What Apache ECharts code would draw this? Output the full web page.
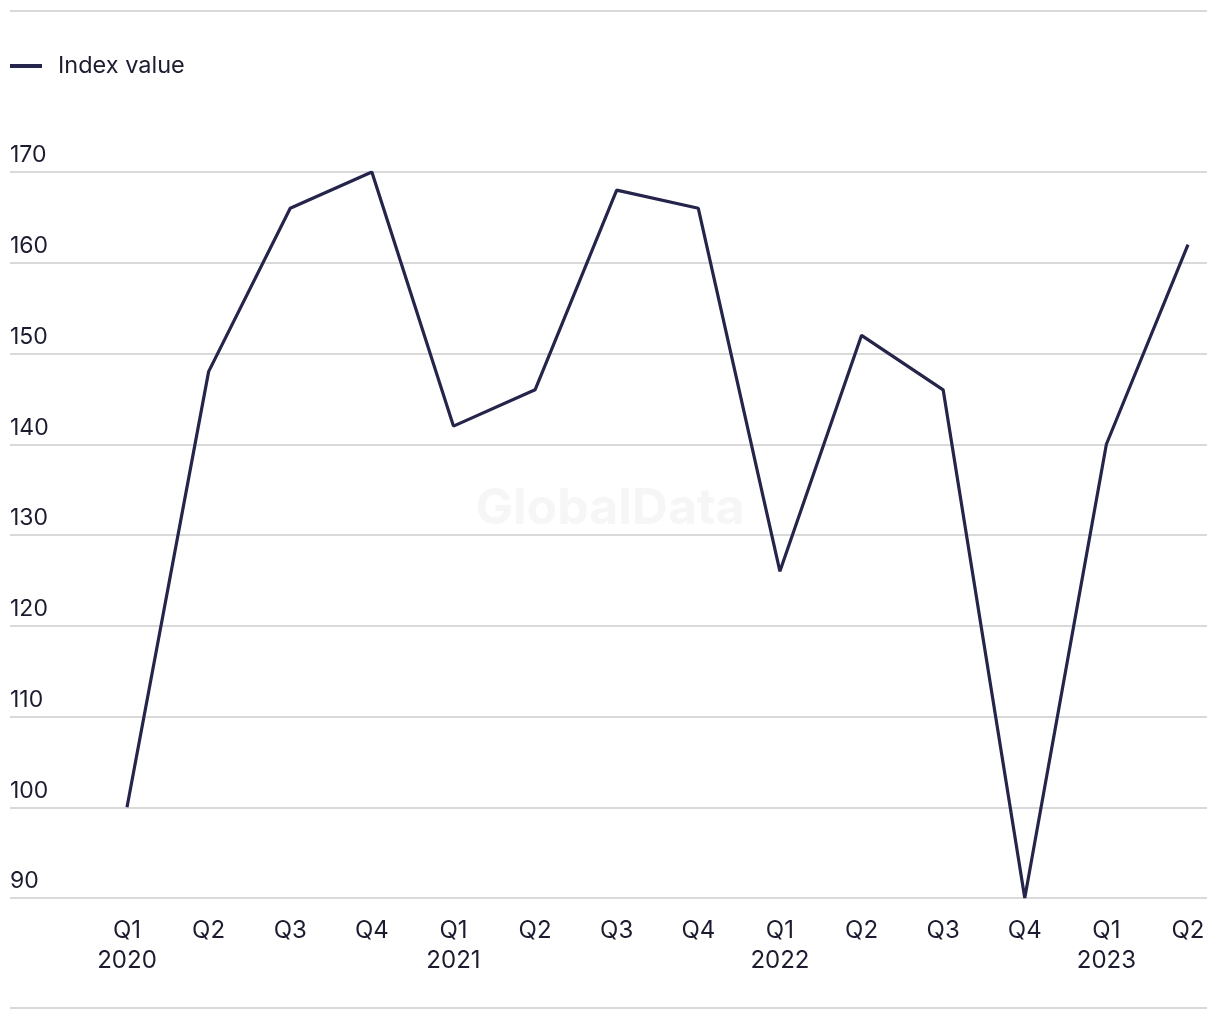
<!DOCTYPE html>
<html>
<head>
<meta charset="utf-8">
<script src="https://cdn.jsdelivr.net/npm/echarts@6/dist/echarts.min.js"></script>
<style>html,body{margin:0;padding:0;background:#fff}#c{width:1220px;height:1020px}</style>
</head>
<body>
<div id="c"></div>
<script>
const quarters = ['Q1','Q2','Q3','Q4','Q1','Q2','Q3','Q4','Q1','Q2','Q3','Q4','Q1','Q2'];
const years = ['2020','','','','2021','','','','2022','','','','2023',''];
const indexValues = [100,148,166,170,142,146,168,166,126,152,146,90,140,162];
const yTicks = [90,100,110,120,130,140,150,160,170];

const categories = quarters.map((q,i)=> years[i] ? q + '\n' + years[i] : q);
const FONT = 'Inter, Roboto, sans-serif';
const chart = echarts.init(document.getElementById('c'));
chart.setOption({
  animation:false,
  backgroundColor:'#fff',
  textStyle:{fontFamily:FONT},
  legend:{
    left:10, top:54, padding:0, icon:'rect', itemWidth:32, itemHeight:4,
    textStyle:{fontFamily:FONT, fontSize:23.5, color:'#1c1c30', padding:[2,0,0,11]},
    data:['Index value']
  },
  graphic:[
    {type:'line', shape:{x1:10,y1:11,x2:1207,y2:11}, style:{stroke:'#d9d9d9', lineWidth:2}, silent:true},
    {type:'line', shape:{x1:10,y1:1008,x2:1207,y2:1008}, style:{stroke:'#d9d9d9', lineWidth:2}, silent:true},
    {type:'text', left:'center', top:484, z:-1, style:{text:'GlobalData', font:'bold 50px '+FONT, fill:'#f6f6f6'}, silent:true}
  ],
  grid:[
    {left:10, right:13, top:172, bottom:122},
    {left:127, right:32, top:172, bottom:122}
  ],
  xAxis:[
    {type:'category', gridIndex:0, data:categories, show:false},
    {type:'category', gridIndex:1, data:categories, boundaryGap:false,
     axisLine:{show:false}, axisTick:{show:false},
     axisLabel:{fontFamily:FONT, fontSize:24, color:'#1c1c30', margin:18, lineHeight:30, interval:0}}
  ],
  yAxis:[
    {type:'value', gridIndex:0, min:yTicks[0], max:yTicks[yTicks.length-1], interval:10,
     axisLine:{show:false}, axisTick:{show:false},
     splitLine:{lineStyle:{color:'#d9d9d9', width:2}},
     axisLabel:{inside:true, margin:0, fontFamily:FONT, fontSize:23, color:'#1c1c30', verticalAlign:'bottom', lineHeight:23, padding:[0,0,5,0]}},
    {type:'value', gridIndex:1, min:yTicks[0], max:yTicks[yTicks.length-1], interval:10, show:false, splitLine:{show:false}}
  ],
  series:[
    {name:'Index value', type:'line', xAxisIndex:1, yAxisIndex:1, data:indexValues,
     showSymbol:false, symbol:'none', lineStyle:{color:'#25244a', width:3.2}, itemStyle:{color:'#25244a'}}
  ]
});
</script>
</body>
</html>
